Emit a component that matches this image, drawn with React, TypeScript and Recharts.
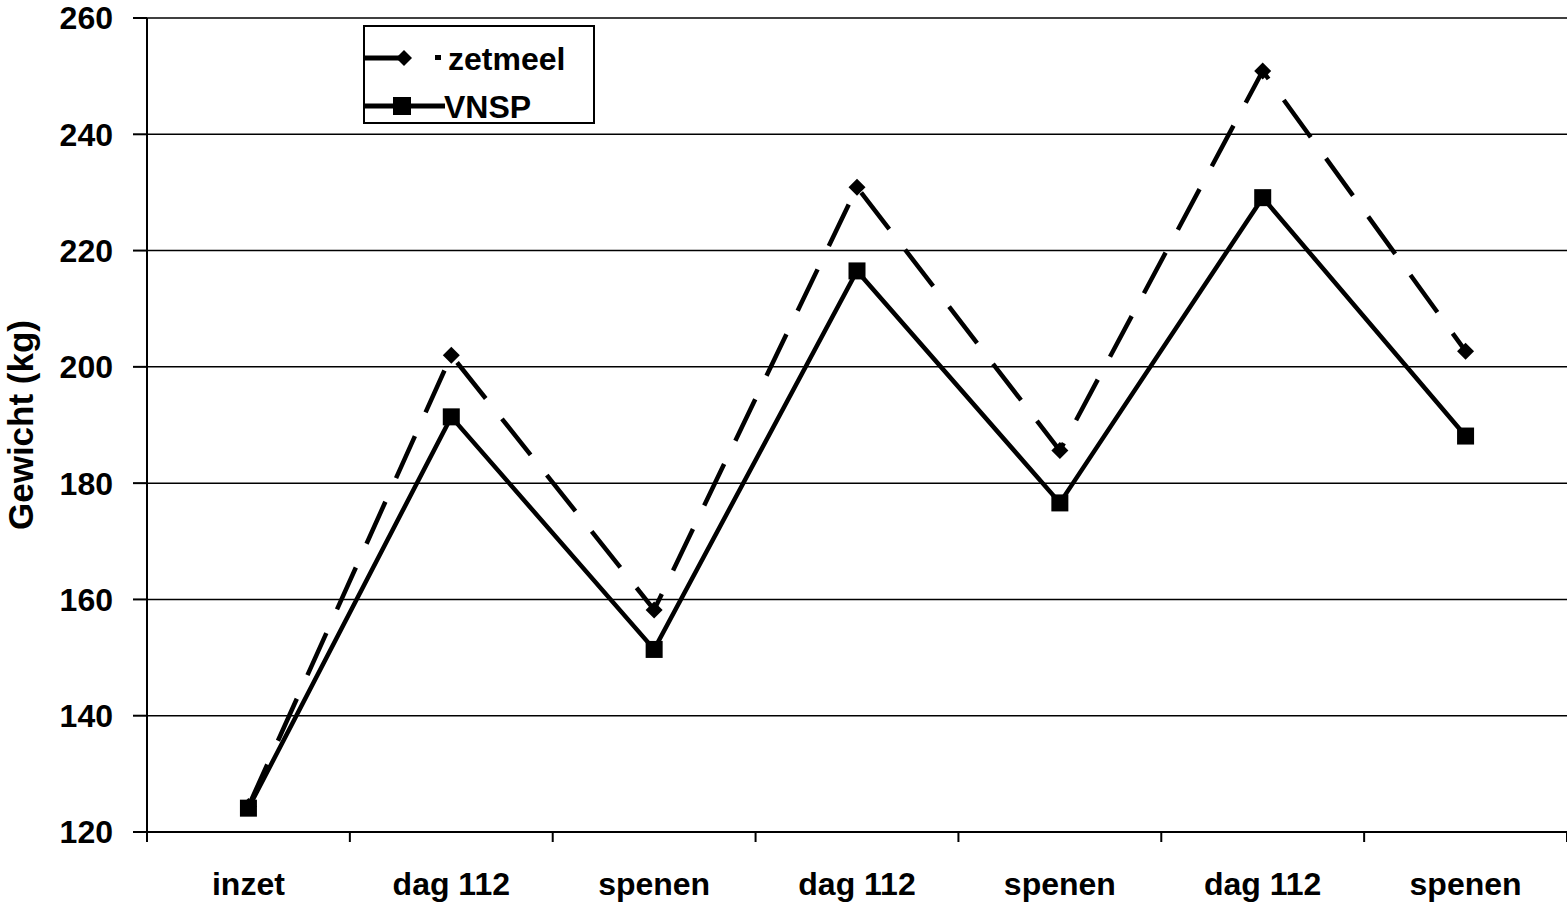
import React from 'react';
import { LineChart, Line, XAxis, YAxis, CartesianGrid } from 'recharts';

const categories = ['inzet', 'dag 112', 'spenen', 'dag 112', 'spenen', 'dag 112', 'spenen'];
const zetmeel = [124.4, 202, 158.2, 230.9, 185.6, 250.9, 202.7];
const vnsp = [124.1, 191.4, 151.4, 216.5, 176.6, 229.1, 188.1];
const yTicks = [120, 140, 160, 180, 200, 220, 240, 260];
const seriesNames = ['zetmeel', 'VNSP'];

const data = categories.map((c, i) => ({ x: i + 0.5, cat: c, zetmeel: zetmeel[i], vnsp: vnsp[i] }));
const xTicks: number[] = [];
for (let i = 0; i <= categories.length * 2; i++) xTicks.push(i / 2);

const FONT = 'Liberation Sans, Arial, sans-serif';

const XTick = (props: any) => {
  const { x, y, payload } = props;
  const v = payload.value as number;
  if (Number.isInteger(v)) {
    return <line x1={x} y1={y} x2={x} y2={y + 10} stroke="#000" strokeWidth={2} />;
  }
  const idx = Math.floor(v);
  return (
    <text x={x} y={y + 63} textAnchor="middle" fontFamily={FONT} fontWeight="bold" fontSize={32} fill="#000">
      {categories[idx]}
    </text>
  );
};

const Diamond = (props: any) => {
  const { cx, cy } = props;
  if (cx == null || cy == null) return null;
  const r = 8.5;
  return <path d={`M${cx},${cy - r}L${cx + r},${cy}L${cx},${cy + r}L${cx - r},${cy}Z`} fill="#000" />;
};

const Square = (props: any) => {
  const { cx, cy } = props;
  if (cx == null || cy == null) return null;
  const s = 17;
  return <rect x={cx - s / 2} y={cy - s / 2} width={s} height={s} fill="#000" />;
};

const LegendBox = () => (
  <svg width={232} height={99} style={{ position: 'absolute', left: 363, top: 25, display: 'block' }}>
    <rect x={1} y={1} width={230} height={97} fill="#fff" stroke="#000" strokeWidth={2} />
    <line x1={1} y1={33} x2={38} y2={33} stroke="#000" strokeWidth={5} />
    <path d="M41,25L49,33L41,41L33,33Z" fill="#000" />
    <rect x={72} y={30} width={6} height={5} fill="#000" />
    <text x={85} y={45} fontFamily={FONT} fontWeight="bold" fontSize={32} fill="#000">{seriesNames[0]}</text>
    <line x1={1} y1={81} x2={82} y2={81} stroke="#000" strokeWidth={5} />
    <rect x={30} y={72} width={18} height={18} fill="#000" />
    <text x={81} y={93} fontFamily={FONT} fontWeight="bold" fontSize={32} fill="#000">{seriesNames[1]}</text>
  </svg>
);

export default function App() {
  return (
    <div style={{ position: 'relative', width: 1567, height: 904, background: '#fff' }}>
      <style>{'body{margin:0;background:#fff;}'}</style>
      <LineChart
        width={1567}
        height={904}
        data={data}
        margin={{ top: 18, right: 0, bottom: 0, left: 0 }}
      >
        <CartesianGrid vertical={false} stroke="#000" strokeWidth={1.5} horizontalValues={yTicks} />
        <XAxis
          type="number"
          dataKey="x"
          domain={[0, categories.length]}
          ticks={xTicks}
          interval={0}
          tickLine={false}
          tickSize={0}
          tickMargin={0}
          tick={<XTick />}
          axisLine={{ stroke: '#000', strokeWidth: 2 }}
          allowDecimals
          height={72}
        />
        <YAxis
          width={147}
          domain={[120, 260]}
          ticks={yTicks}
          interval={0}
          tickSize={14}
          tickMargin={20}
          tickLine={{ stroke: '#000', strokeWidth: 2 }}
          axisLine={{ stroke: '#000', strokeWidth: 2 }}
          tick={{ fill: '#000', fontFamily: FONT, fontWeight: 'bold', fontSize: 32 }}
          label={{
            value: 'Gewicht (kg)',
            angle: -90,
            position: 'insideLeft',
            dx: 16,
            style: { fill: '#000', fontFamily: FONT, fontWeight: 'bold', fontSize: 35, textAnchor: 'middle' },
          }}
        />
        <Line
          name={seriesNames[0]}
          dataKey="zetmeel"
          stroke="#000"
          strokeWidth={4.5}
          strokeDasharray="46 26"
          dot={<Diamond />}
          isAnimationActive={false}
        />
        <Line
          name={seriesNames[1]}
          dataKey="vnsp"
          stroke="#000"
          strokeWidth={4.5}
          dot={<Square />}
          isAnimationActive={false}
        />
      </LineChart>
      <LegendBox />
    </div>
  );
}
